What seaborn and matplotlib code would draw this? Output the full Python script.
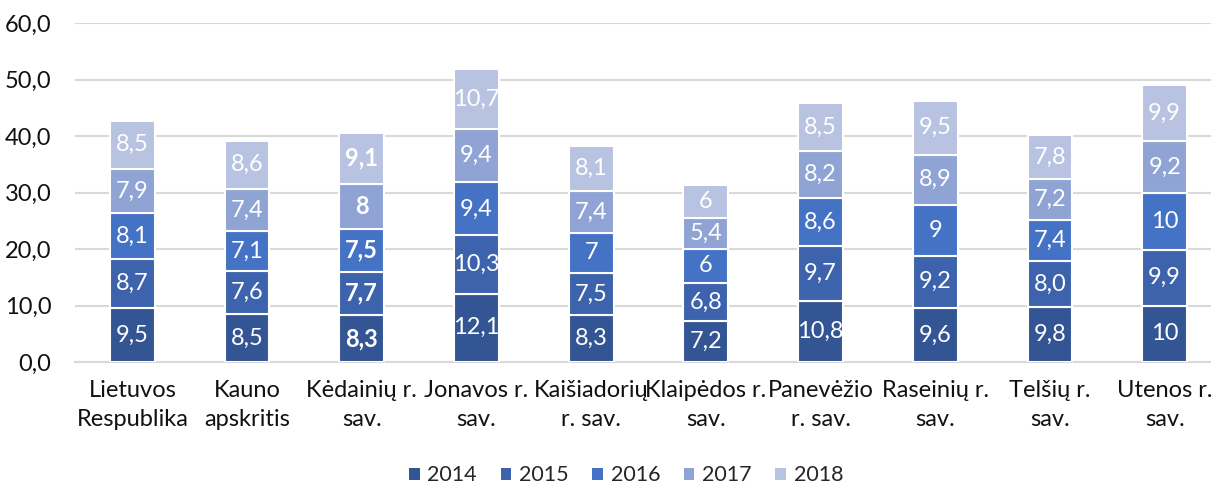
import numpy as np
import pandas as pd
import matplotlib
matplotlib.use("Agg")
import matplotlib.pyplot as plt
from matplotlib.patches import Patch
import seaborn as sns

categories = ["Lietuvos\nRespublika", "Kauno\napskritis", "Kėdainių r.\nsav.", "Jonavos r.\nsav.",
              "Kaišiadorių\nr. sav.", "Klaipėdos r.\nsav.", "Panevėžio\nr. sav.", "Raseinių r.\nsav.",
              "Telšių r.\nsav.", "Utenos r.\nsav."]
years = ["2014", "2015", "2016", "2017", "2018"]

v2014 = [9.5, 8.5, 8.3, 12.1, 8.3, 7.2, 10.8, 9.6, 9.8, 10.0]
v2015 = [8.7, 7.6, 7.7, 10.3, 7.5, 6.8, 9.7, 9.2, 8.0, 9.9]
v2016 = [8.1, 7.1, 7.5, 9.4, 7.0, 6.0, 8.6, 9.0, 7.4, 10.0]
v2017 = [7.9, 7.4, 8.0, 9.4, 7.4, 5.4, 8.2, 8.9, 7.2, 9.2]
v2018 = [8.5, 8.6, 9.1, 10.7, 8.1, 6.0, 8.5, 9.5, 7.8, 9.9]

# labels as printed in the source chart
l2014 = ["9,5", "8,5", "8,3", "12,1", "8,3", "7,2", "10,8", "9,6", "9,8", "10"]
l2015 = ["8,7", "7,6", "7,7", "10,3", "7,5", "6,8", "9,7", "9,2", "8,0", "9,9"]
l2016 = ["8,1", "7,1", "7,5", "9,4", "7", "6", "8,6", "9", "7,4", "10"]
l2017 = ["7,9", "7,4", "8", "9,4", "7,4", "5,4", "8,2", "8,9", "7,2", "9,2"]
l2018 = ["8,5", "8,6", "9,1", "10,7", "8,1", "6", "8,5", "9,5", "7,8", "9,9"]

colors = ["#335593", "#3C63AC", "#4472C4", "#8FA4D4", "#B8C3E2"]
bold_cat = 2

sns.set_style("white")
plt.rcParams["font.family"] = ["Lato", "DejaVu Sans"]

fig = plt.figure(figsize=(12.11, 4.86), dpi=100)
ax = fig.add_axes([75 / 1211, 1 - 362 / 486, 1147 / 1211, 339 / 486])

values = [v2014, v2015, v2016, v2017, v2018]
labels = [l2014, l2015, l2016, l2017, l2018]
bottom = np.zeros(len(categories))
for i, yr in enumerate(years):
	df = pd.DataFrame({"cat": categories, "val": values[i]})
	sns.barplot(data=df, x="cat", y="val", color=colors[i], saturation=1, width=0.39,
	            bottom=bottom.copy(), edgecolor="white", linewidth=1.5, ax=ax, zorder=3)
	bottom += np.array(values[i])

for i, cont in enumerate(ax.containers):
	txts = ax.bar_label(cont, labels=labels[i], label_type="center", color="white", fontsize=17)
	txts[bold_cat].set_fontweight("bold")

ax.set_ylim(0, 60)
ax.set_xlim(-0.5, 9.5)
ax.set_yticks(range(0, 61, 10))
ax.set_yticklabels(["{:.1f}".format(t).replace(".", ",") for t in range(0, 61, 10)])
ax.yaxis.grid(True, color="#D9D9D9", linewidth=1.5, zorder=0)
ax.set_axisbelow(True)
for s in ["top", "right", "left"]:
	ax.spines[s].set_visible(False)
ax.spines["bottom"].set_color("#D9D9D9")
ax.spines["bottom"].set_linewidth(1.5)
ax.set_xlabel("")
ax.set_ylabel("")
ax.tick_params(axis="y", length=0, pad=17, labelsize=17, labelcolor="#111111")
ax.tick_params(axis="x", length=0, pad=13, labelsize=17, labelcolor="#111111")
for t in ax.get_xticklabels():
	t.set_linespacing(1.45)

handles = [Patch(facecolor=c, edgecolor="none") for c in colors]
fig.legend(handles, years, loc="center", bbox_to_anchor=(0.517, 0.022), ncol=5, frameon=False,
           fontsize=15.5, handlelength=0.5, handleheight=0.5, handletextpad=0.35, columnspacing=1.1)

fig.savefig("out.png", dpi=100)
